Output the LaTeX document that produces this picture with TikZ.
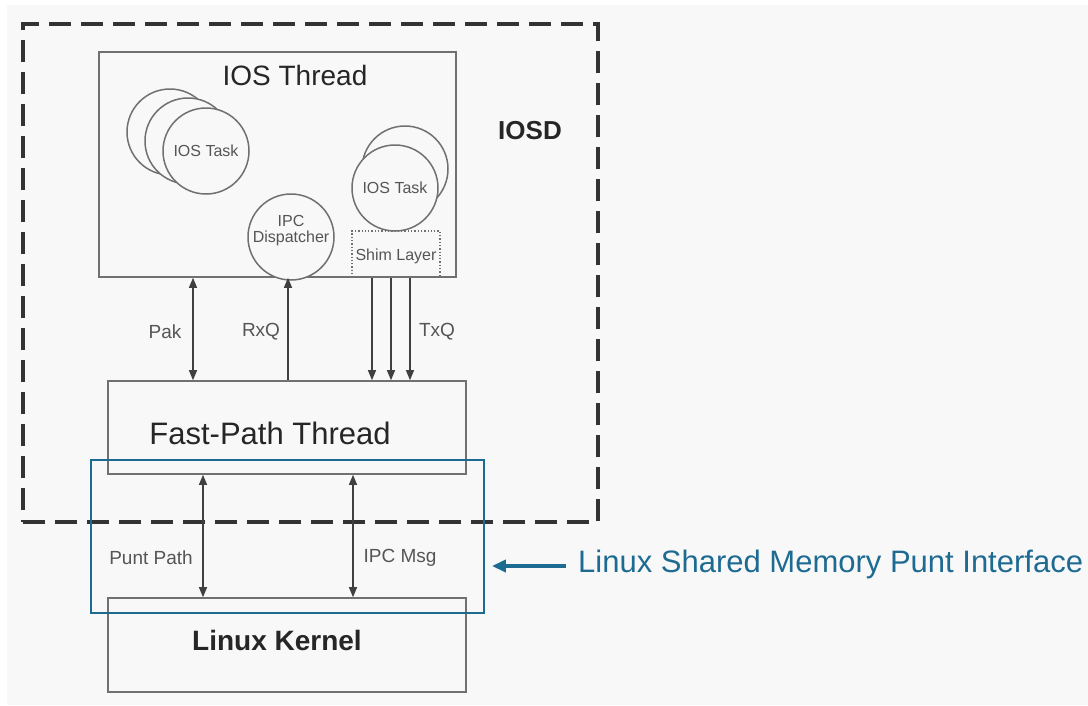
\documentclass[tikz,border=0pt]{standalone}
\usepackage{fontspec}
\setmainfont{Liberation Sans}
\usetikzlibrary{arrows.meta}
\definecolor{bg}{HTML}{F8F8F8}
\definecolor{boxline}{HTML}{707070}
\definecolor{txtgray}{HTML}{555555}
\definecolor{cblue}{HTML}{1E6B92}
\tikzset{
  box/.style={draw=boxline, line width=1.6pt, fill=none, inner sep=0pt},
  task/.style={circle, draw=boxline, line width=1.5pt, fill=bg, minimum size=86pt, inner sep=0pt},
  lbl/.style={text=txtgray, font=\fontsize{19}{21}\selectfont, inner sep=0pt},
  small/.style={text=txtgray, font=\fontsize{16}{17}\selectfont, inner sep=0pt},
  conn/.style={draw=black!75, line width=1.3pt},
  tip/.style={-{Triangle[width=8pt,length=10pt]}},
  dtip/.style={{Triangle[width=8pt,length=10pt]}-{Triangle[width=8pt,length=10pt]}},
}
\begin{document}
\begin{tikzpicture}[x=1pt,y=-1pt]
\useasboundingbox (0,0) rectangle (1088,705);
\fill[white] (0,0) rectangle (1088,705);
\fill[bg] (7,5) rectangle (1088,705);

% IOSD dashed container
\node[draw=black!80, line width=3.6pt, dash pattern=on 22pt off 10pt, minimum width=575pt, minimum height=498pt, inner sep=0pt] (iosd) at (310.5,273) {};
\node[font=\bfseries\fontsize{26}{28}\selectfont, text=black!85] (iosdl) at (530,131) {IOSD};

% IOS thread
\node[box, minimum width=357pt, minimum height=225pt] (ios) at (277.5,164.5) {};
\node[font=\fontsize{28}{30}\selectfont, text=black!85] (iost) at (295,75) {IOS Thread};

% left stacked tasks
\node[task] (t1) at (170,132) {};
\node[task] (t2) at (188,141) {};
\node[task] (t3) at (206,151) {};
\node[small] at (t3) {IOS Task};

% right stacked tasks
\node[task] (r1) at (405,169) {};
\node[task] (r2) at (395,188) {};
\node[small] at (r2) {IOS Task};

% shim layer
\node[draw=boxline, line width=1.3pt, dotted, minimum width=88pt, minimum height=46pt, inner sep=0pt] (shim) at (396,254) {};
\node[small] at (396,256) {Shim Layer};

% IPC dispatcher
\node[task] (ipc) at (291,237) {};
\node[small, align=center] at (291,231) {IPC\\[-1pt]Dispatcher};

% Fast path
\node[box, minimum width=358pt, minimum height=93pt] (fp) at (287,427.5) {};
\node[font=\fontsize{31}{33}\selectfont, text=black!85] at (270,433) {Fast-Path Thread};

% Linux Kernel
\node[box, minimum width=358pt, minimum height=94pt] (lk) at (287,645) {};
\node[font=\bfseries\fontsize{28}{30}\selectfont, text=black!85] at (277,640) {Linux Kernel};

% connector x positions
\coordinate (pakx) at (193,0);
\coordinate (rxqx) at (288,0);
\coordinate (tx1) at (372,0);
\coordinate (tx2) at (391,0);
\coordinate (tx3) at (410,0);
\coordinate (puntx) at (203,0);
\coordinate (ipcx) at (353,0);

\draw[conn, dtip] (ios.south -| pakx) -- (fp.north -| pakx);
\draw[conn, tip] (fp.north -| rxqx) -- (ios.south -| rxqx);
\draw[conn, tip] (ios.south -| tx1) -- (fp.north -| tx1);
\draw[conn, tip] (ios.south -| tx2) -- (fp.north -| tx2);
\draw[conn, tip] (ios.south -| tx3) -- (fp.north -| tx3);

\node[lbl] at (165,332) {Pak};
\node[lbl] at (261,332) {RxQ};
\node[lbl] at (437,332) {TxQ};

\draw[conn, dtip] (fp.south -| puntx) -- (lk.north -| puntx);
\draw[conn, dtip] (fp.south -| ipcx) -- (lk.north -| ipcx);
\node[lbl] at (151,558) {Punt Path};
\node[lbl] at (400,558) {IPC Msg};

% blue shared memory box
\node[draw=cblue, line width=1.8pt, minimum width=393pt, minimum height=153pt, inner sep=0pt] (shm) at (287.5,536.5) {};
\coordinate (arrs) at (566,566);
\node[anchor=west, text=cblue, font=\fontsize{31}{33}\selectfont, inner sep=0pt] (shml) at (578,564) {Linux Shared Memory Punt Interface};
\draw[draw=cblue, line width=3.5pt, -{Triangle[width=12pt,length=14pt]}, shorten >=7pt] (arrs) -- (arrs -| shm.east);
\end{tikzpicture}
\end{document}
